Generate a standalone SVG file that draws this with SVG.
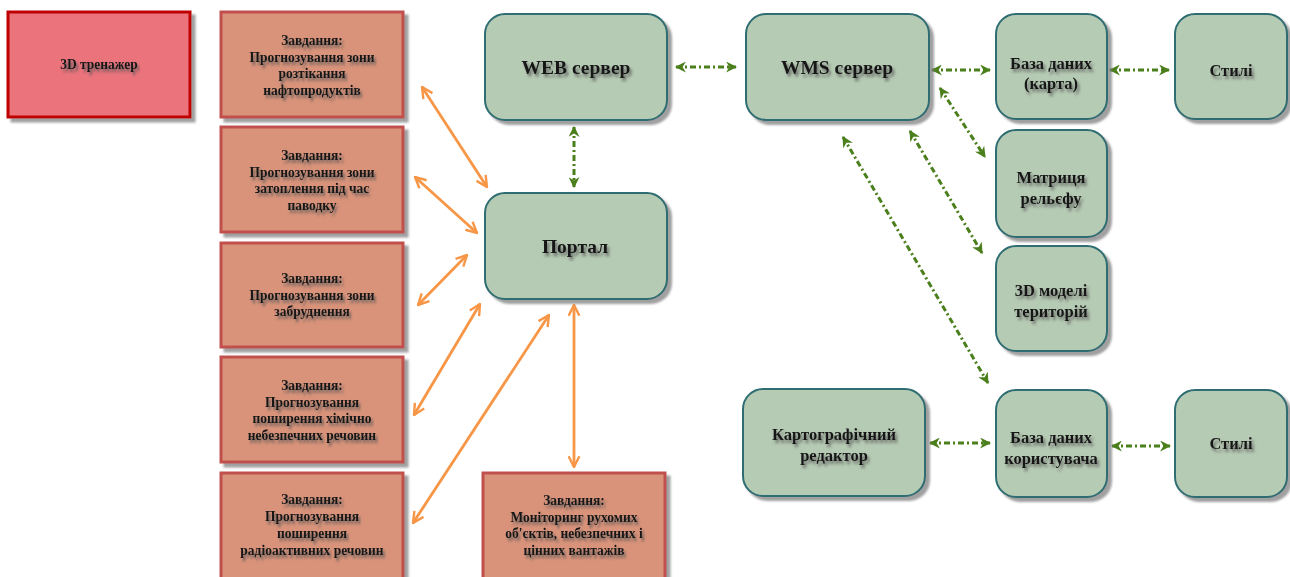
<svg xmlns="http://www.w3.org/2000/svg" width="1290" height="577" viewBox="0 0 1290 577">
  <style>
    .g { fill:#b6cbb4; stroke:#2f6d72; stroke-width:2; }
    .t { fill:#d9937a; stroke:#c0504d; stroke-width:3; }
    .r { fill:#eb737c; stroke:#c00000; stroke-width:3; }
    text { font-family:"Liberation Serif","Times New Roman",serif; font-weight:bold; fill:#161616; text-anchor:middle; dominant-baseline:central; }
    .s14 { font-size:15.5px; }
    .s16 { font-size:16.5px; }
    .s19 { font-size:19.5px; }
    .o { stroke:#f79646; stroke-width:2.8; fill:none; marker-start:url(#ao); marker-end:url(#ao); }
    .gr { stroke:#4a7f1c; stroke-width:3; fill:none; stroke-dasharray:6 3 2 3; marker-start:url(#ag); marker-end:url(#ag); }
  </style>
  <defs>
    <filter id="bs" x="-10%" y="-10%" width="125%" height="130%">
      <feDropShadow dx="4" dy="4" stdDeviation="1.2" flood-color="#777" flood-opacity="0.7"/>
    </filter>
    <filter id="ts" x="-20%" y="-40%" width="140%" height="200%">
      <feGaussianBlur in="SourceAlpha" stdDeviation="1.4" result="b"/>
      <feOffset in="b" dx="2" dy="3" result="o"/>
      <feFlood flood-color="#555" flood-opacity="0.8"/>
      <feComposite in2="o" operator="in" result="sh"/>
      <feMerge><feMergeNode in="sh"/><feMergeNode in="SourceGraphic"/></feMerge>
    </filter>
    <marker id="ao" viewBox="0 0 12 12" refX="11" refY="6" markerWidth="13" markerHeight="13" markerUnits="userSpaceOnUse" orient="auto-start-reverse">
      <path d="M1,1 L11,6 L1,11" fill="none" stroke="#f79646" stroke-width="2.2"/>
    </marker>
    <marker id="ag" viewBox="0 0 10 10" refX="9" refY="5" markerWidth="11" markerHeight="11" markerUnits="userSpaceOnUse" orient="auto-start-reverse">
      <path d="M0,0 L10,5 L0,10 L3,5 Z" fill="#4a7f1c"/>
    </marker>
  </defs>

  <g id="connectors">
    <line class="o" x1="422" y1="87" x2="487" y2="187"/>
    <line class="o" x1="415" y1="177" x2="477" y2="233"/>
    <line class="o" x1="467" y1="255" x2="418" y2="305"/>
    <line class="o" x1="480" y1="304" x2="414" y2="415"/>
    <line class="o" x1="549" y1="315" x2="413" y2="523"/>
    <line class="o" x1="574" y1="305" x2="574" y2="467"/>
    <line class="gr" x1="574" y1="127" x2="574" y2="187"/>
    <line class="gr" x1="676" y1="67" x2="736" y2="67"/>
    <line class="gr" x1="932" y1="70" x2="990" y2="70"/>
    <line class="gr" x1="1110" y1="70" x2="1169" y2="70"/>
    <line class="gr" x1="940" y1="88" x2="985" y2="157"/>
    <line class="gr" x1="910" y1="131" x2="982" y2="253"/>
    <line class="gr" x1="843" y1="137" x2="988" y2="383"/>
    <line class="gr" x1="930" y1="443" x2="990" y2="443"/>
    <line class="gr" x1="1112" y1="446" x2="1170" y2="446"/>
  </g>

  <g id="trainer">
    <rect class="r" x="8" y="12" width="182" height="105" filter="url(#bs)"/>
    <g transform="matrix(0.87,0,0,1,12.87,0)" filter="url(#ts)">
      <text class="s14" x="99" y="64">3D тренажер</text>
    </g>
  </g>

  <g id="task1">
    <rect class="t" x="221" y="12" width="182" height="105" filter="url(#bs)"/>
    <g transform="matrix(0.87,0,0,1,40.56,0)" filter="url(#ts)">
      <text class="s14" x="312" y="40">Завдання:</text>
      <text class="s14" x="312" y="56.5">Прогнозування зони</text>
      <text class="s14" x="312" y="73">розтікання</text>
      <text class="s14" x="312" y="89.5">нафтопродуктів</text>
    </g>
  </g>
  <g id="task2">
    <rect class="t" x="221" y="127" width="182" height="105" filter="url(#bs)"/>
    <g transform="matrix(0.87,0,0,1,40.56,0)" filter="url(#ts)">
      <text class="s14" x="312" y="155">Завдання:</text>
      <text class="s14" x="312" y="171.5">Прогнозування зони</text>
      <text class="s14" x="312" y="188">затоплення під час</text>
      <text class="s14" x="312" y="204.5">паводку</text>
    </g>
  </g>
  <g id="task3">
    <rect class="t" x="221" y="243" width="182" height="104" filter="url(#bs)"/>
    <g transform="matrix(0.87,0,0,1,40.56,0)" filter="url(#ts)">
      <text class="s14" x="312" y="278">Завдання:</text>
      <text class="s14" x="312" y="294.5">Прогнозування зони</text>
      <text class="s14" x="312" y="311">забруднення</text>
    </g>
  </g>
  <g id="task4">
    <rect class="t" x="221" y="357" width="182" height="105" filter="url(#bs)"/>
    <g transform="matrix(0.87,0,0,1,40.56,0)" filter="url(#ts)">
      <text class="s14" x="312" y="385">Завдання:</text>
      <text class="s14" x="312" y="401.5">Прогнозування</text>
      <text class="s14" x="312" y="418">поширення хімічно</text>
      <text class="s14" x="312" y="434.5">небезпечних речовин</text>
    </g>
  </g>
  <g id="task5">
    <rect class="t" x="221" y="473" width="182" height="106" filter="url(#bs)"/>
    <g transform="matrix(0.87,0,0,1,40.56,0)" filter="url(#ts)">
      <text class="s14" x="312" y="499">Завдання:</text>
      <text class="s14" x="312" y="516">Прогнозування</text>
      <text class="s14" x="312" y="533">поширення</text>
      <text class="s14" x="312" y="550">радіоактивних речовин</text>
    </g>
  </g>
  <g id="task6">
    <rect class="t" x="483" y="473" width="182" height="106" filter="url(#bs)"/>
    <g transform="matrix(0.87,0,0,1,74.62,0)" filter="url(#ts)">
      <text class="s14" x="574" y="500">Завдання:</text>
      <text class="s14" x="574" y="516.5">Моніторинг рухомих</text>
      <text class="s14" x="574" y="533">об'єктів, небезпечних і</text>
      <text class="s14" x="574" y="549.5">цінних вантажів</text>
    </g>
  </g>

  <g id="web">
    <rect class="g" x="485" y="14" width="182" height="106" rx="20" filter="url(#bs)"/>
    <text class="s19" x="576" y="67" filter="url(#ts)">WEB сервер</text>
  </g>
  <g id="portal">
    <rect class="g" x="485" y="193" width="182" height="106" rx="20" filter="url(#bs)"/>
    <text class="s19" x="575" y="246" filter="url(#ts)">Портал</text>
  </g>
  <g id="wms">
    <rect class="g" x="746" y="14" width="183" height="106" rx="20" filter="url(#bs)"/>
    <text class="s19" x="837" y="67" filter="url(#ts)">WMS сервер</text>
  </g>
  <g id="db-map">
    <rect class="g" x="996" y="14" width="111" height="105" rx="20" filter="url(#bs)"/>
    <text class="s16" x="1051" y="63" filter="url(#ts)">База даних</text>
    <text class="s16" x="1051" y="83" filter="url(#ts)">(карта)</text>
  </g>
  <g id="styles1">
    <rect class="g" x="1175" y="14" width="112" height="105" rx="20" filter="url(#bs)"/>
    <text class="s16" x="1231" y="70" filter="url(#ts)">Стилі</text>
  </g>
  <g id="relief">
    <rect class="g" x="996" y="130" width="111" height="107" rx="20" filter="url(#bs)"/>
    <text class="s16" x="1051" y="177" filter="url(#ts)">Матриця</text>
    <text class="s16" x="1051" y="198" filter="url(#ts)">рельєфу</text>
  </g>
  <g id="models">
    <rect class="g" x="996" y="246" width="111" height="105" rx="20" filter="url(#bs)"/>
    <text class="s16" x="1051" y="290" filter="url(#ts)">3D моделі</text>
    <text class="s16" x="1051" y="311" filter="url(#ts)">територій</text>
  </g>
  <g id="editor">
    <rect class="g" x="743" y="389" width="182" height="107" rx="20" filter="url(#bs)"/>
    <text class="s16" x="834" y="434" filter="url(#ts)">Картографічний</text>
    <text class="s16" x="834" y="455" filter="url(#ts)">редактор</text>
  </g>
  <g id="db-user">
    <rect class="g" x="996" y="390" width="111" height="107" rx="20" filter="url(#bs)"/>
    <text class="s16" x="1051" y="437" filter="url(#ts)">База даних</text>
    <text class="s16" x="1051" y="458" filter="url(#ts)">користувача</text>
  </g>
  <g id="styles2">
    <rect class="g" x="1175" y="390" width="112" height="107" rx="20" filter="url(#bs)"/>
    <text class="s16" x="1231" y="443" filter="url(#ts)">Стилі</text>
  </g>
</svg>
